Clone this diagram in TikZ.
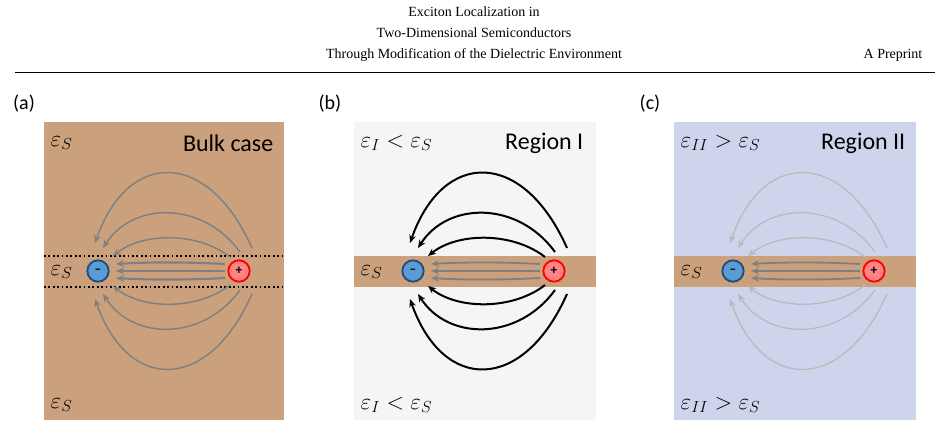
\documentclass[tikz,border=0pt]{standalone}
\usepackage{fontspec}
\setsansfont{Carlito}
\newfontfamily\hdfont{Liberation Serif}
\usetikzlibrary{arrows.meta,calc}
\definecolor{bulkbrown}{HTML}{CBA17D}
\definecolor{lowgray}{HTML}{F5F5F5}
\definecolor{highblue}{HTML}{CED4EC}
\definecolor{minusblue}{HTML}{5B9BD5}
\definecolor{minusedge}{HTML}{1F4E79}
\definecolor{plusred}{HTML}{FF8585}
\tikzset{
  hdr/.style={font=\hdfont\fontsize{10.5}{12}\selectfont},
  lbl/.style={font=\sffamily\fontsize{15}{18}\selectfont},
  big/.style={font=\fontsize{17}{20}\selectfont},
  minus/.style={circle,draw=minusedge,fill=minusblue,line width=1.4pt,minimum size=16pt,inner sep=0pt,font=\sffamily\bfseries},
  plus/.style={circle,draw=red,fill=plusred,line width=1.4pt,minimum size=16pt,inner sep=0pt,font=\sffamily\bfseries},
  fline/.style={-{Stealth[length=6pt,width=5pt]}}
}
% field lines from plus (#2) to minus (#1); #3 outer style, #4 inner style
\newcommand\fieldlines[4]{%
  \foreach \s in {1,-1}{%
    \draw[fline,#3] ($(#2)+(132,-14*\s)$) .. controls ($(#1)+(100,-39*\s)$) and ($(#1)+(45,-39*\s)$) .. ($(#1)+(15,-15*\s)$);
    \draw[fline,#3] ($(#2)+(142,-19*\s)$) .. controls ($(#1)+(105,-70*\s)$) and ($(#1)+(35,-70*\s)$) .. ($(#1)+(5,-23*\s)$);
    \draw[fline,#3] ($(#2)+(154,-23*\s)$) .. controls ($(#1)+(110,-122*\s)$) and ($(#1)+(30,-122*\s)$) .. ($(#1)+(-3,-28*\s)$);
    \draw[fline,#4] ($(#2)+(127,-7*\s)$) .. controls ($(#1)+(90,-9*\s)$) and ($(#1)+(50,-9*\s)$) .. ($(#1)+(18,-7*\s)$);
  }
  \draw[fline,#4] ($(#2)+(127,0)$) -- ($(#1)+(18,0)$);
}
\begin{document}
\begin{tikzpicture}[x=0.75pt,y=-0.75pt]
  \useasboundingbox (0,0) rectangle (948,429);
  % header
  \node[hdr] (t1) at (474,12) {Exciton Localization in};
  \node[hdr] (t2) at (474,33) {Two-Dimensional Semiconductors};
  \node[hdr] (t3) at (474,55) {Through Modification of the Dielectric Environment};
  \node[hdr] (pp) at (893,55) {A P\textsc{reprint}};
  \draw[line width=0.4pt] (15,72) -- (935,72);
  % panel labels
  \node[lbl] (la) at (24,104) {(a)};
  \node[lbl] (lb) at (330,104) {(b)};
  \node[lbl] (lc) at (650,104) {(c)};
  % backgrounds
  \fill[bulkbrown] (44,122) rectangle (284,420);
  \fill[lowgray] (354,122) rectangle (596,420);
  \fill[bulkbrown] (354,256) rectangle (596,287);
  \fill[highblue] (674,122) rectangle (916,420);
  \fill[bulkbrown] (674,256) rectangle (916,287);
  \draw[dotted,line width=1.3pt] (44,256) -- (284,256) (44,287) -- (284,287);
  % (a) bulk
  \node[big,anchor=west] (a1) at (46,143) {$\varepsilon_S$};
  \node[big,anchor=west] (a2) at (46,272) {$\varepsilon_S$};
  \node[big,anchor=west] (a3) at (46,405) {$\varepsilon_S$};
  \node[big,anchor=east,font=\sffamily\fontsize{18}{20}\selectfont] (ta) at (278,143) {Bulk case};
  \coordinate (ma) at (98,271);
  \coordinate (pa) at (98,271);
  \fieldlines{ma}{pa}{gray,line width=1.1pt}{gray,line width=1.6pt}
  \node[minus] (na) at (ma) {\textbf{--}};
  \node[plus] (qa) at (239,271) {+};
  % (b) region I
  \node[big,anchor=west] (b1) at (356,143) {$\varepsilon_I<\varepsilon_S$};
  \node[big,anchor=west] (b2) at (356,272) {$\varepsilon_S$};
  \node[big,anchor=west] (b3) at (356,405) {$\varepsilon_I<\varepsilon_S$};
  \node[anchor=east,font=\sffamily\fontsize{18}{20}\selectfont] (tb) at (588,143) {Region I};
  \coordinate (mb) at (413,271);
  \fieldlines{mb}{mb}{black,line width=1.5pt}{gray,line width=1.4pt}
  \node[minus] (nb) at (mb) {\textbf{--}};
  \node[plus] (qb) at (554,271) {+};
  % (c) region II
  \node[big,anchor=west] (c1) at (676,143) {$\varepsilon_{II}>\varepsilon_S$};
  \node[big,anchor=west] (c2) at (676,272) {$\varepsilon_S$};
  \node[big,anchor=west] (c3) at (676,405) {$\varepsilon_{II}>\varepsilon_S$};
  \node[anchor=east,font=\sffamily\fontsize{18}{20}\selectfont] (tc) at (910,143) {Region II};
  \coordinate (mc) at (733,271);
  \fieldlines{mc}{mc}{gray!55,line width=0.9pt}{gray,line width=1.4pt}
  \node[minus] (nc) at (mc) {\textbf{--}};
  \node[plus] (qc) at (874,271) {+};
\end{tikzpicture}
\end{document}
